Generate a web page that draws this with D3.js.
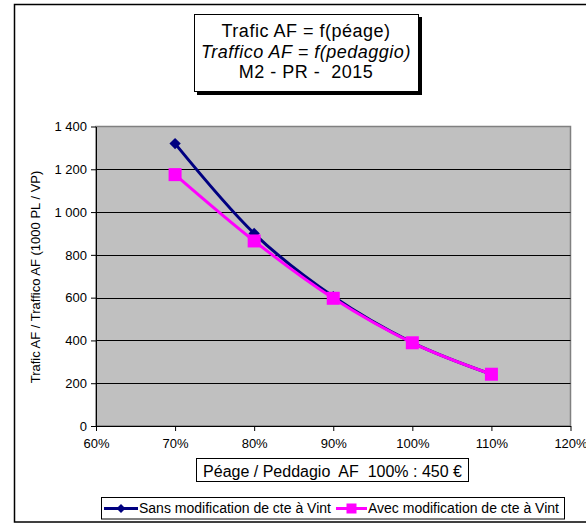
<!DOCTYPE html>
<html><head><meta charset="utf-8">
<script src="https://cdn.jsdelivr.net/npm/d3@7"></script>
<style>body{margin:0;background:#fff}svg{display:block;font-family:"Liberation Sans",Arial,sans-serif}text{white-space:pre}</style>
</head><body><svg id="c" width="586" height="523"></svg>
<script>
const xValues = [0.7, 0.8, 0.9, 1.0, 1.1];
const sansValues = [1320, 900, 605, 390, 242];
const avecValues = [1175, 865, 597, 389, 242];
const seriesNames = ["Sans modification de cte à Vint", "Avec modification de cte à Vint"];
const xTicks = [0.6, 0.7, 0.8, 0.9, 1.0, 1.1, 1.2];
const yTicks = [0, 200, 400, 600, 800, 1000, 1200, 1400];
const titleLines = ["Trafic AF = f(péage)", "Traffico AF = f(pedaggio)", "M2 - PR -  2015"];
const xTitle = "Péage / Peddagio  AF  100% : 450 €";
const yTitle = "Trafic AF / Traffico AF (1000 PL / VP)";

const svg = d3.select("#c");
svg.append("rect").attr("x",14.5).attr("y",4.5).attr("width",580).attr("height",517.5)
  .attr("fill","#fff").attr("stroke","#000").attr("stroke-width",1.5);

const x = d3.scaleLinear().domain([0.6,1.2]).range([96,570.5]);
const y = d3.scaleLinear().domain([0,1400]).range([426,126.5]);

svg.append("rect").attr("x",96).attr("y",126.5).attr("width",474.5).attr("height",299.5)
  .attr("fill","#c0c0c0").attr("stroke","#808080").attr("stroke-width",1.5);
svg.append("g").selectAll("line").data(yTicks.filter(d=>d>0 && d<1400)).join("line")
  .attr("x1",96).attr("x2",570.5).attr("y1",d=>Math.round(y(d))+0.5).attr("y2",d=>Math.round(y(d))+0.5)
  .attr("stroke","#000").attr("stroke-width",1);

const fmt = d => d3.format(",")(d).replace(",", " ");
const yAxis = svg.append("g").attr("transform","translate(96,0)")
  .call(d3.axisLeft(y).tickValues(yTicks).tickSize(5).tickSizeOuter(0).tickFormat(fmt).tickPadding(4));
const xAxis = svg.append("g").attr("transform","translate(0,426)")
  .call(d3.axisBottom(x).tickValues(xTicks).tickSize(5).tickSizeOuter(0).tickFormat(d3.format(".0%")).tickPadding(8));
[yAxis,xAxis].forEach(a=>{
  a.selectAll("text").attr("font-size",13).attr("fill","#000").attr("font-family","Liberation Sans, Arial, sans-serif");
  a.selectAll("line,path").attr("stroke","#000");
});

const line = d3.line().x((d,i)=>x(xValues[i])).y(d=>y(d)).curve(d3.curveCatmullRom.alpha(0));
svg.append("path").datum(sansValues).attr("d",line).attr("fill","none").attr("stroke","#000080").attr("stroke-width",3);
svg.append("g").selectAll("path").data(sansValues).join("path")
  .attr("d",d3.symbol(d3.symbolSquare, 64))
  .attr("transform",(d,i)=>`translate(${x(xValues[i])},${y(d)}) rotate(45)`).attr("fill","#000080");
svg.append("path").datum(avecValues).attr("d",line).attr("fill","none").attr("stroke","#ff00ff").attr("stroke-width",3);
svg.append("g").selectAll("rect").data(avecValues).join("rect")
  .attr("x",(d,i)=>x(xValues[i])-6.5).attr("y",d=>y(d)-6.5).attr("width",13).attr("height",13).attr("fill","#ff00ff");

// title box with shadow
svg.append("rect").attr("x",197).attr("y",17).attr("width",225).attr("height",78).attr("fill","#000");
svg.append("rect").attr("x",194.5).attr("y",14.5).attr("width",224).attr("height",77).attr("fill","#fff").attr("stroke","#000").attr("stroke-width",1);
svg.append("g").selectAll("text").data(titleLines).join("text")
  .attr("x",306).attr("y",(d,i)=>[37,57.5,78][i]).attr("text-anchor","middle").attr("font-size",18)
  .attr("letter-spacing",0.5)
  .attr("font-style",(d,i)=>i===1?"italic":"normal").text(d=>d);

svg.append("text").attr("transform","translate(40,277) rotate(-90)").attr("text-anchor","middle")
  .attr("font-size",13).text(yTitle);

svg.append("rect").attr("x",196.5).attr("y",458.5).attr("width",272).attr("height",23).attr("fill","#fff").attr("stroke","#000");
svg.append("text").attr("x",332.5).attr("y",477).attr("text-anchor","middle").attr("font-size",16).text(xTitle);

svg.append("rect").attr("x",101.5).attr("y",497.5).attr("width",463).attr("height",21.5).attr("fill","#fff").attr("stroke","#000");
const lg = [{x0:104,x1:138,tx:139,color:"#000080",diamond:true},{x0:336,x1:367,tx:368,color:"#ff00ff",diamond:false}];
lg.forEach((l,i)=>{
  svg.append("line").attr("x1",l.x0).attr("x2",l.x1).attr("y1",508.5).attr("y2",508.5).attr("stroke",l.color).attr("stroke-width",3);
  const cx=(l.x0+l.x1)/2;
  if(l.diamond) svg.append("path").attr("d",d3.symbol(d3.symbolSquare,40)).attr("transform",`translate(${cx},508.5) rotate(45)`).attr("fill",l.color);
  else svg.append("rect").attr("x",cx-5).attr("y",503.5).attr("width",10).attr("height",10).attr("fill",l.color);
  svg.append("text").attr("x",l.tx).attr("y",513).attr("font-size",14).text(seriesNames[i]);
});
</script></body></html>
